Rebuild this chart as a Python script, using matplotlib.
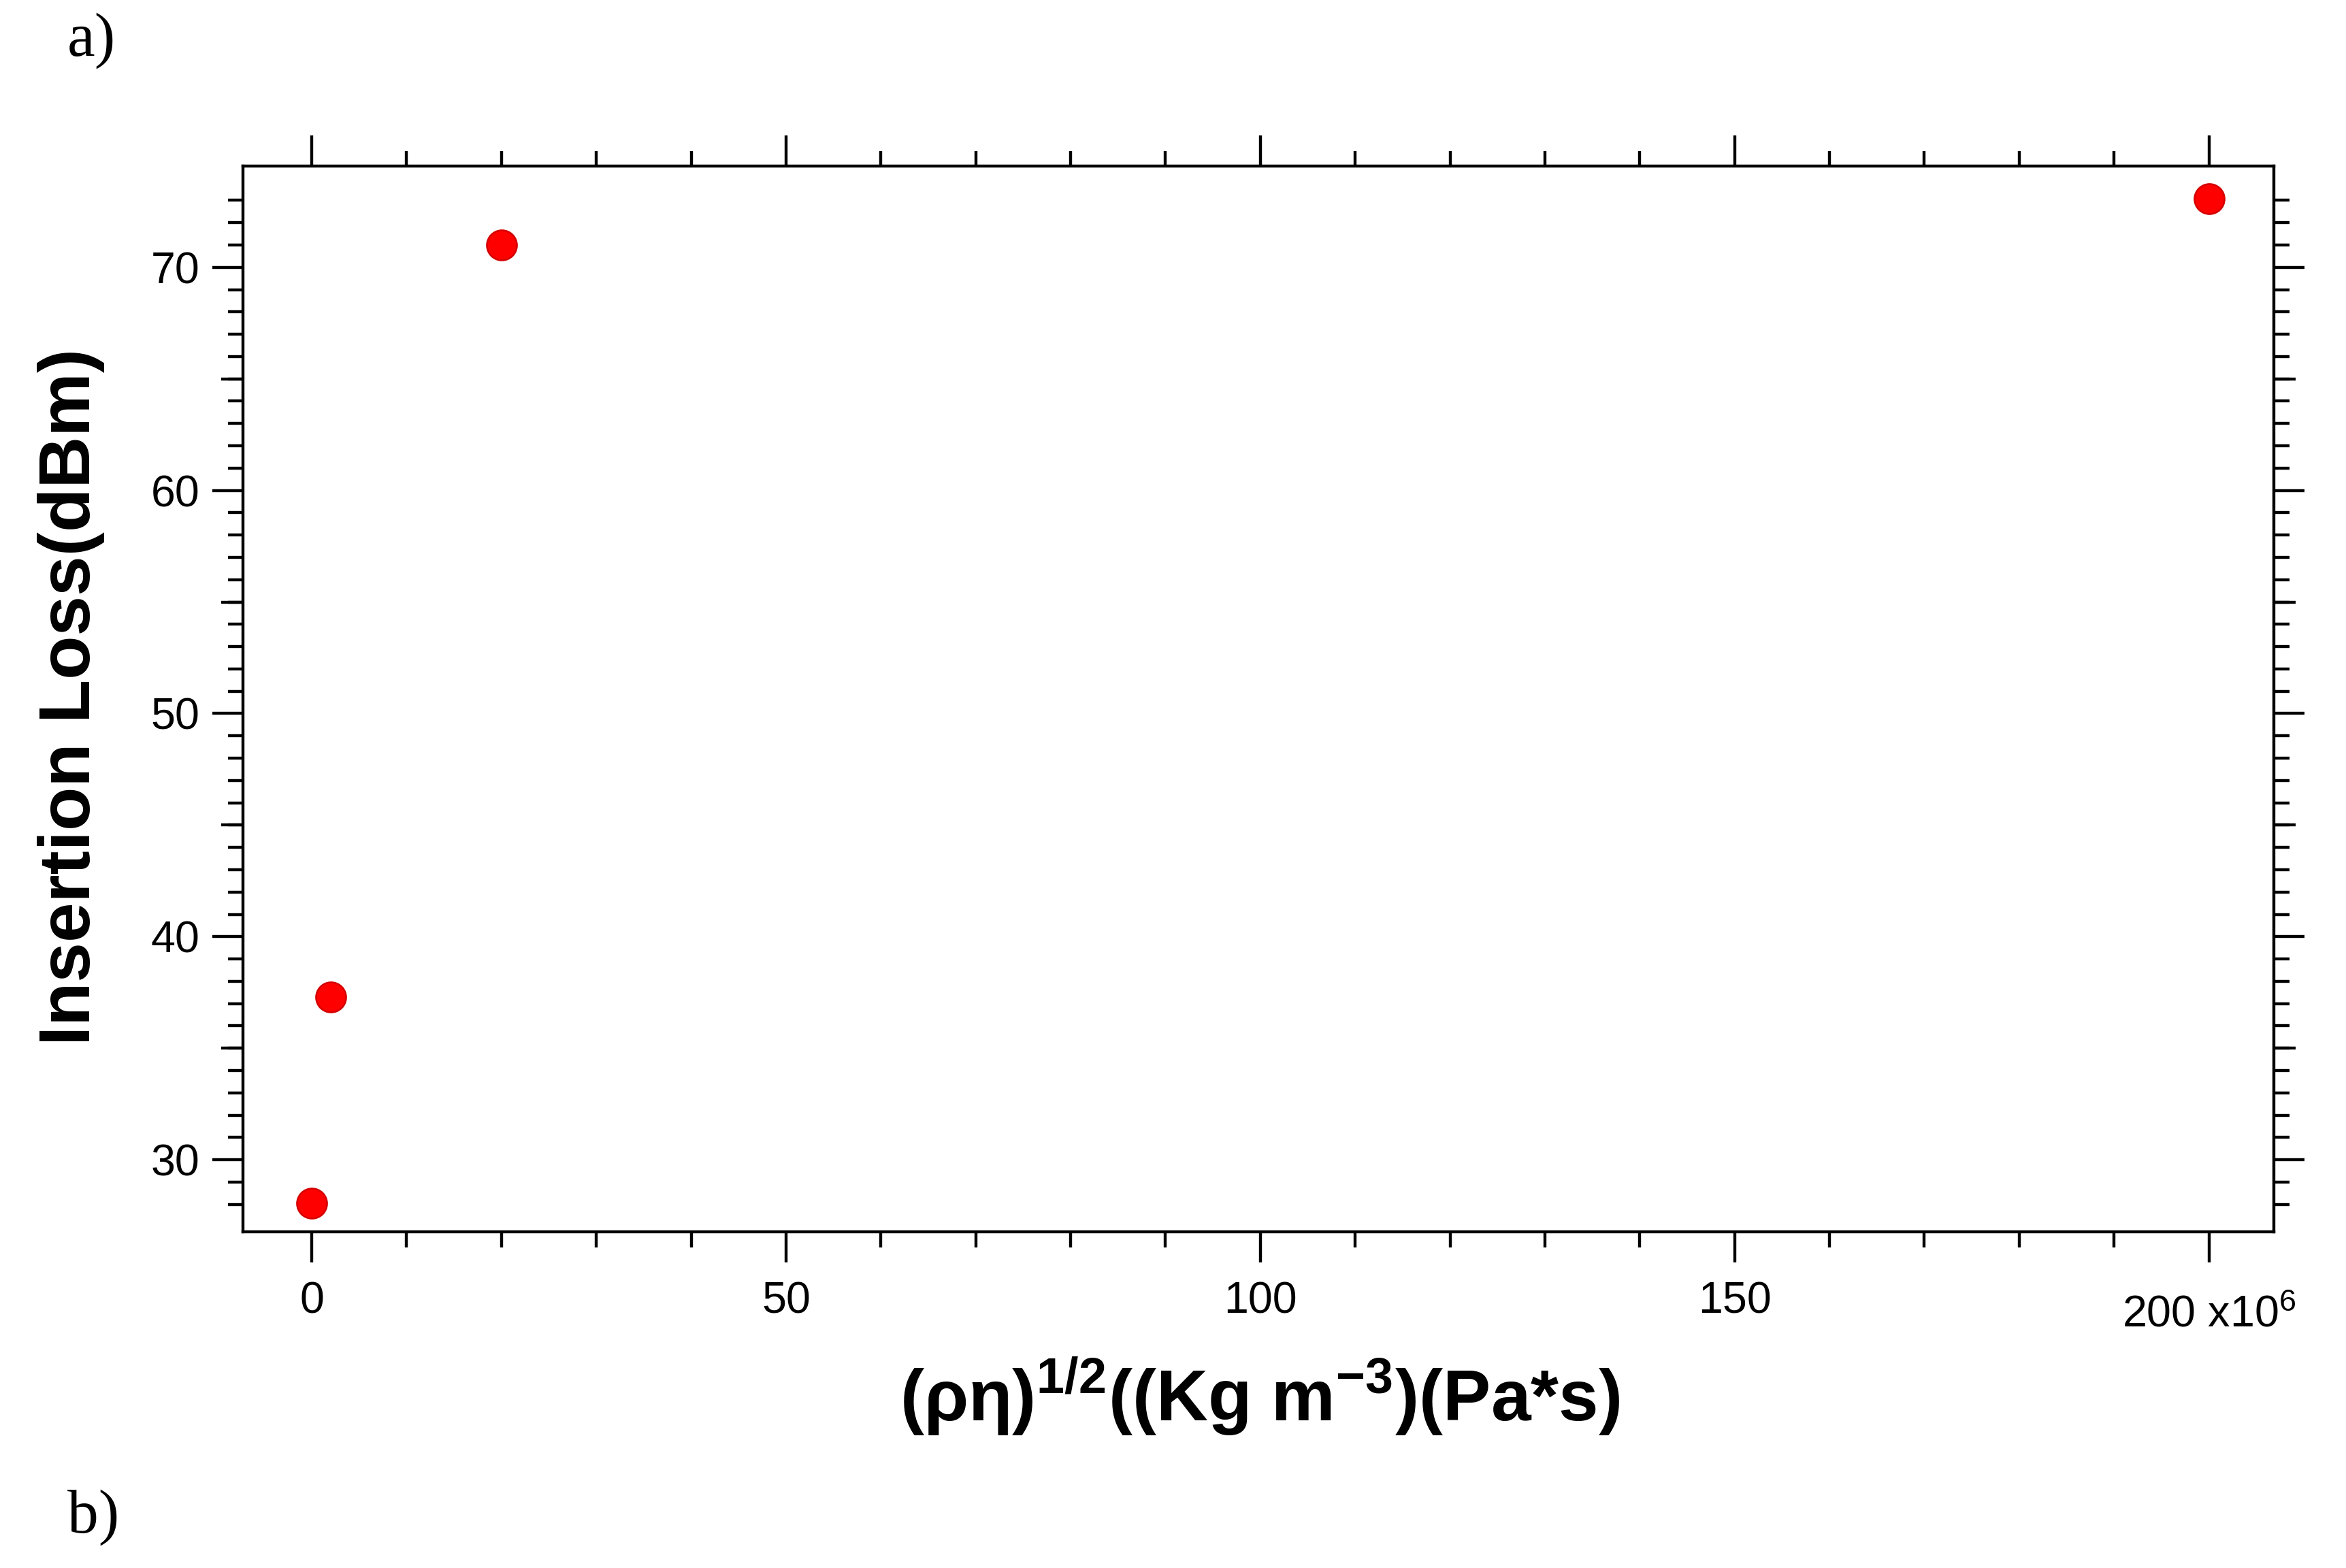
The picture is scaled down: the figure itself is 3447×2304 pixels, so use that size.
import matplotlib
matplotlib.use('Agg')
import matplotlib.pyplot as plt
import matplotlib.transforms as mtransforms
from matplotlib.ticker import FixedLocator, FixedFormatter

# ---- data (x in units of 1e6) ----
x_vals = [0, 2, 20, 200]
y_vals = [28.06, 37.3, 71.0, 73.08]

x_major = [0, 50, 100, 150, 200]
x_major_labels = ['0', '50', '100', '150', '200 x10$^{6}$']
x_minor = [0, 10, 20, 30, 40, 50, 60, 70, 80, 90, 100, 110, 120, 130, 140,
           150, 160, 170, 180, 190, 200]
y_major = [30, 40, 50, 60, 70]
y_major_labels = ['30', '40', '50', '60', '70']
y_medium = [35, 45, 55, 65]
y_minor = list(range(28, 74))

x_label = '(ρη)$^{\\mathbf{1/2}}$((Kg m$^{\\mathbf{-3}}$)(Pa*s)'
y_label = 'Insertion Loss(dBm)'

plt.rcParams['font.family'] = ['Liberation Sans', 'DejaVu Sans']
plt.rcParams['mathtext.fontset'] = 'custom'
plt.rcParams['mathtext.rm'] = 'Liberation Sans'
plt.rcParams['mathtext.bf'] = 'Liberation Sans:bold'
plt.rcParams['mathtext.it'] = 'Liberation Sans:italic'
plt.rcParams['mathtext.sf'] = 'Liberation Sans'

W, H, DPI = 3447, 2304, 300
fig = plt.figure(figsize=(W / DPI, H / DPI), dpi=DPI)
fig.patch.set_facecolor('white')

ax = fig.add_axes([0.10357, 0.21441, 0.86557, 0.67956])
ax.plot(x_vals, y_vals, linestyle='none', marker='o', ms=10.6,
        mfc='#ff0000', mec='#d40000', mew=0.6, zorder=3)

ax.set_xlim(-7.25, 206.82)
ax.set_ylim(26.77, 74.53)

lw = 1.05
for s in ax.spines.values():
    s.set_linewidth(lw)
    s.set_color('black')

ax.xaxis.set_major_locator(FixedLocator(x_major))
ax.xaxis.set_major_formatter(FixedFormatter(x_major_labels))
ax.xaxis.set_minor_locator(FixedLocator(x_minor))
ax.yaxis.set_major_locator(FixedLocator(y_major))
ax.yaxis.set_major_formatter(FixedFormatter(y_major_labels))
ax.yaxis.set_minor_locator(FixedLocator(y_minor))

ax.tick_params(axis='both', which='major', direction='out', length=10.8,
               width=lw, top=True, right=True, labelsize=15.5, colors='black')
ax.tick_params(axis='both', which='minor', direction='out', length=5.4,
               width=lw, top=True, right=True)
ax.tick_params(axis='x', which='major', pad=6.5)
ax.tick_params(axis='y', which='major', pad=4.4)

# medium ticks at the fives on the y axis (left and right)
for side in ('left', 'right'):
    sec = ax.secondary_yaxis(side)
    sec.spines[side].set_visible(False)
    sec.yaxis.set_major_locator(FixedLocator(y_medium))
    sec.tick_params(axis='y', which='major', direction='out', length=7.7,
                    width=lw, labelleft=False, labelright=False)

ax.set_xlabel(x_label, fontsize=25.3, fontweight='bold',
              verticalalignment='baseline')
ax.xaxis.set_label_coords(0.5007, -0.1776)
ax.set_ylabel(y_label, fontsize=25.3, fontweight='bold',
              verticalalignment='baseline')
ax.yaxis.set_label_coords(-0.0754, 0.502)

fig.text(0.0287, 0.9644, 'a)', family='Liberation Serif', fontsize=22,
         ha='left', va='baseline')
fig.text(0.0287, 0.0226, 'b)', family='Liberation Serif', fontsize=22,
         ha='left', va='baseline')

# the last x tick label (with exponent) sits a little lower, as in the original
fig.canvas.draw()
last = ax.xaxis.get_major_ticks()[-1].label1
last.set_transform(last.get_transform() +
                   mtransforms.ScaledTranslation(0, -20 / DPI, fig.dpi_scale_trans))

fig.savefig('out.png', dpi=DPI, facecolor='white')
